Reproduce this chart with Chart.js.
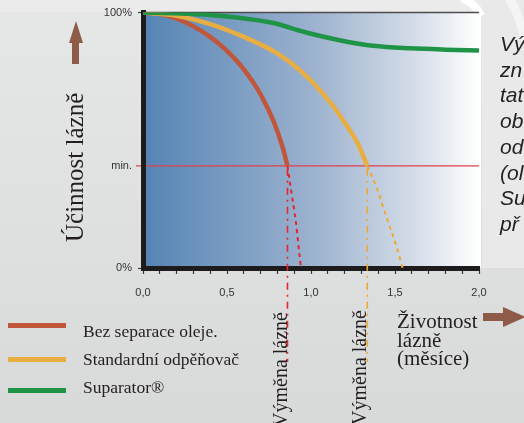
<!DOCTYPE html>
<html lang="cs">
<head>
  <meta charset="UTF-8" />
  <title>Účinnost lázně</title>
  <script src="https://cdn.jsdelivr.net/npm/chart.js"></script>
  <style>
    html, body { margin: 0; padding: 0; overflow: hidden; }
    body { width: 524px; height: 423px; background: linear-gradient(#e6e7e7, #d8d9d9); position: relative; font-family: "Liberation Serif", serif; color: #231f20; }
    #topband { position: absolute; left: 0; top: 0; width: 524px; height: 12px; background: #ebebeb; }
    #panel { position: absolute; left: 482px; top: 0; width: 42px; height: 268px; background: #e9e9e9; }
    #deco { position: absolute; left: 0; top: 0; }
    canvas { position: absolute; left: 0; top: 0; }
    .abs { position: absolute; white-space: nowrap; }
    .rot { transform-origin: 0 0; transform: rotate(-90deg); }
    #ytitle { left: 62px; top: 242px; font-size: 25px; line-height: 25px; }
    .swap { font-size: 20px; line-height: 20px; }
    #xtitle { left: 397px; top: 312px; font-size: 21px; line-height: 18.5px; }
    #side { left: 500px; top: 31px; font-family: "Liberation Sans", sans-serif; font-style: italic; font-size: 21px; line-height: 25.7px; color: #222; }
    .leg { position: absolute; left: 8px; width: 58px; height: 4.5px; }
    .legtxt { position: absolute; left: 83px; font-size: 17.5px; line-height: 20px; }
  </style>
</head>
<body>
  <div id="topband"></div>
  <div id="panel"></div>
  <svg id="deco" width="524" height="423">
    <path d="M462,-2 Q476,4 481,16" stroke="#ffffff" stroke-width="8" fill="none" />
    <path d="M509,-2 Q520,16 526,42" stroke="#f4f4f4" stroke-width="9" fill="none" />
  </svg>
  <canvas id="chart" width="524" height="423"></canvas>
  <svg class="abs" style="left:0;top:0" width="524" height="423">
    <polygon points="76,21 83,43 79,43 79,64 72,64 72,43 69,43" fill="#8e5b48" />
    <polygon points="483,313 503,313 503,307 526,317 503,327 503,321 483,321" fill="#8e5b48" />
  </svg>
  <div id="ytitle" class="abs rot">Účinnost lázně</div>
  <div class="abs rot swap" style="left:270px;top:427px">Výměna lázně</div>
  <div class="abs rot swap" style="left:349px;top:425px">Výměna lázně</div>
  <div id="xtitle" class="abs">Životnost<br>lázně<br>(měsíce)</div>
  <div id="side" class="abs">Vý<br>zn<br>tat<br>ob<br>od<br>(ol<br>Su<br>př</div>
  <div id="legend"></div>

  <script>
    // hodnoty (x = měsíce, y = % účinnosti)
    const seriesNames = ['Bez separace oleje.', 'Standardní odpěňovač', 'Suparator®'];
    const seriesColors = ['#c0573b', '#e8ae42', '#1f9447'];

    const bezX = [0, 0.1, 0.2, 0.3, 0.4, 0.5, 0.6, 0.7, 0.78, 0.83, 0.86];
    const bezY = [100, 99.4, 97.6, 94.6, 90.5, 85, 77.8, 68, 57, 47.5, 40];
    const bezTailX = [0.86, 0.88, 0.91, 0.925, 0.94];
    const bezTailY = [40, 31, 18, 9, 0];

    const stdX = [0, 0.2, 0.4, 0.6, 0.8, 0.95, 1.1, 1.2, 1.28, 1.335];
    const stdY = [100, 98.8, 95.5, 90.5, 84, 76.5, 66, 57, 48.5, 40];
    const stdTailX = [1.335, 1.39, 1.455, 1.51, 1.545];
    const stdTailY = [40, 31.6, 18.8, 8.2, 0];

    const supX = [0, 0.2, 0.4, 0.57, 0.77, 0.97, 1.17, 1.37, 1.59, 1.8, 2.0];
    const supY = [100, 99.7, 99.1, 98, 96, 92.2, 89.2, 87, 86, 85.5, 85.2];

    const minLevel = 40;
    const replaceAt = [0.86, 1.335];
    const replaceColors = ['#e8232b', '#f0a830'];

    const xTickValues = [0, 0.5, 1, 1.5, 2];
    const xTickLabels = ['0,0', '0,5', '1,0', '1,5', '2,0'];
    const yTickValues = [0, 40, 100];
    const yTickLabels = ['0%', 'min.', '100%'];

    const pts = (xs, ys) => xs.map((x, i) => ({ x, y: ys[i] }));

    // legenda
    const legend = document.getElementById('legend');
    const legLineY = [325, 359, 390];
    const legTextY = [332, 360, 388];
    seriesNames.forEach((name, i) => {
      const line = document.createElement('div');
      line.className = 'leg';
      line.style.top = (legLineY[i] - 2) + 'px';
      line.style.background = seriesColors[i];
      legend.appendChild(line);
      const txt = document.createElement('div');
      txt.className = 'legtxt';
      txt.style.top = (legTextY[i] - 11) + 'px';
      txt.textContent = name;
      legend.appendChild(txt);
    });

    const background = {
      id: 'background',
      beforeDraw(chart) {
        const { ctx, chartArea: a, scales } = chart;
        const g = ctx.createLinearGradient(a.left, 0, a.right, 0);
        g.addColorStop(0, '#5584b5');
        g.addColorStop(0.5, '#9bb1ce');
        g.addColorStop(0.8, '#d2dbe7');
        g.addColorStop(1, '#ffffff');
        ctx.save();
        ctx.fillStyle = g;
        ctx.fillRect(a.left, a.top, a.right - a.left + 2, a.bottom - a.top);
        // horní linka
        ctx.strokeStyle = '#4d4d4d';
        ctx.lineWidth = 1.5;
        ctx.beginPath();
        ctx.moveTo(a.left, a.top);
        ctx.lineTo(a.right, a.top);
        ctx.stroke();
        // minimální hranice
        const ym = scales.y.getPixelForValue(minLevel);
        ctx.strokeStyle = '#e0404a';
        ctx.lineWidth = 1.2;
        ctx.beginPath();
        ctx.moveTo(a.left - 7, ym);
        ctx.lineTo(a.right, ym);
        ctx.stroke();
        ctx.restore();
      },
      afterDatasetsDraw(chart) {
        const { ctx, chartArea: a, scales } = chart;
        const ym = scales.y.getPixelForValue(minLevel);
        ctx.save();
        ctx.lineWidth = 1.6;
        ctx.setLineDash([7, 5, 2, 5]);
        replaceAt.forEach((v, i) => {
          const x = scales.x.getPixelForValue(v);
          ctx.strokeStyle = replaceColors[i];
          ctx.beginPath();
          ctx.moveTo(x, ym + 3);
          ctx.lineTo(x, a.bottom + 94);
          ctx.stroke();
        });
        ctx.restore();
      }
    };

    new Chart(document.getElementById('chart'), {
      type: 'line',
      data: {
        datasets: [
          { label: seriesNames[2], data: pts(supX, supY), borderColor: seriesColors[2], borderWidth: 4.5 },
          { label: seriesNames[1], data: pts(stdX, stdY), borderColor: seriesColors[1], borderWidth: 4.5 },
          { label: '', data: pts(stdTailX, stdTailY), borderColor: replaceColors[1], borderWidth: 2, borderDash: [4, 4] },
          { label: seriesNames[0], data: pts(bezX, bezY), borderColor: seriesColors[0], borderWidth: 4.5 },
          { label: '', data: pts(bezTailX, bezTailY), borderColor: replaceColors[0], borderWidth: 2, borderDash: [4, 4] }
        ]
      },
      options: {
        responsive: false,
        animation: false,
        layout: { padding: { left: 0, top: 12, right: 45, bottom: 115 } },
        elements: {
          point: { radius: 0 },
          line: { tension: 0.4, cubicInterpolationMode: 'monotone', borderCapStyle: 'butt' }
        },
        plugins: { legend: { display: false }, tooltip: { enabled: false } },
        scales: {
          x: {
            type: 'linear', min: 0, max: 2,
            afterFit: s => { s.height = 40; },
            border: { display: true, color: '#1e1b1c', width: 5 },
            grid: { drawOnChartArea: false, tickLength: 6, tickColor: '#333', tickWidth: 1.2 },
            ticks: {
              stepSize: 0.1, autoSkip: false, maxRotation: 0, padding: 12,
              color: '#333', font: { family: 'Liberation Sans', size: 11 },
              callback: v => {
                const i = xTickValues.findIndex(t => Math.abs(t - v) < 1e-6);
                return i >= 0 ? xTickLabels[i] : '';
              }
            }
          },
          y: {
            min: 0, max: 100,
            afterFit: s => { s.width = 143; },
            afterBuildTicks: s => { s.ticks = yTickValues.map(v => ({ value: v })); },
            border: { display: true, color: '#1e1b1c', width: 5 },
            grid: {
              drawOnChartArea: false, tickLength: 5, tickWidth: 1.2,
              tickColor: c => c.tick && c.tick.value === minLevel ? 'rgba(0,0,0,0)' : '#444'
            },
            ticks: {
              padding: 6, color: '#333', font: { family: 'Liberation Sans', size: 11 },
              callback: v => yTickLabels[yTickValues.indexOf(v)]
            }
          }
        }
      },
      plugins: [background]
    });
  </script>
</body>
</html>
